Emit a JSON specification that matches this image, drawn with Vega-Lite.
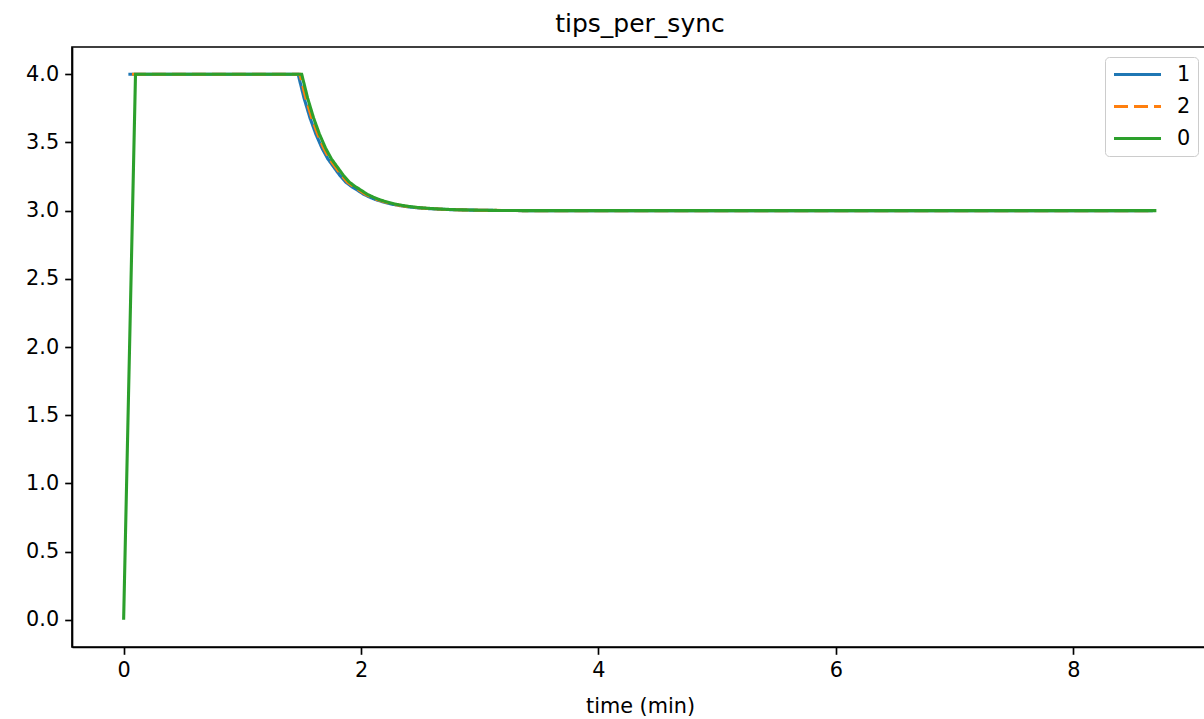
{
  "$schema": "https://vega.github.io/schema/vega-lite/v6.json",
  "autosize": "none",
  "width": 1136,
  "height": 600,
  "padding": {"left": 72, "top": 47, "right": 0, "bottom": 72},
  "background": "white",
  "title": {"text": "tips_per_sync", "font": "DejaVu Sans", "fontSize": 25, "fontWeight": "normal", "color": "black", "anchor": "middle", "baseline": "alphabetic", "offset": -10},
  "config": {
    "view": {"stroke": "black", "strokeWidth": 1.67},
    "axis": {"grid": false, "domainColor": "black", "domainWidth": 1.67, "tickColor": "black", "tickWidth": 1.67, "tickSize": 7.3, "labelPadding": 6, "labelFont": "DejaVu Sans", "labelFontSize": 20.8, "labelColor": "black", "titleFont": "DejaVu Sans", "titleFontSize": 20.8, "titleFontWeight": "normal", "titleColor": "black"},
    "legend": {"labelFont": "DejaVu Sans", "labelFontSize": 20.8, "labelColor": "black"}
  },
  "data": {"values": [
    {"s": "0", "t": 0, "v": 0},
    {"s": "0", "t": 0.1, "v": 4}, {"s": "0", "t": 0.5, "v": 4}, {"s": "0", "t": 1.0, "v": 4}, {"s": "0", "t": 1.5, "v": 4},
    {"s": "0", "t": 1.55, "v": 3.825}, {"s": "0", "t": 1.6, "v": 3.68}, {"s": "0", "t": 1.65, "v": 3.56}, {"s": "0", "t": 1.7, "v": 3.46},
    {"s": "0", "t": 1.75, "v": 3.38}, {"s": "0", "t": 1.8, "v": 3.32}, {"s": "0", "t": 1.85, "v": 3.26}, {"s": "0", "t": 1.9, "v": 3.21},
    {"s": "0", "t": 1.95, "v": 3.177}, {"s": "0", "t": 2.0, "v": 3.15}, {"s": "0", "t": 2.05, "v": 3.121}, {"s": "0", "t": 2.1, "v": 3.10},
    {"s": "0", "t": 2.15, "v": 3.082}, {"s": "0", "t": 2.2, "v": 3.068}, {"s": "0", "t": 2.25, "v": 3.056}, {"s": "0", "t": 2.3, "v": 3.046},
    {"s": "0", "t": 2.35, "v": 3.038}, {"s": "0", "t": 2.4, "v": 3.031}, {"s": "0", "t": 2.45, "v": 3.026}, {"s": "0", "t": 2.5, "v": 3.021},
    {"s": "0", "t": 2.6, "v": 3.015}, {"s": "0", "t": 2.7, "v": 3.010}, {"s": "0", "t": 2.8, "v": 3.007}, {"s": "0", "t": 2.9, "v": 3.005},
    {"s": "0", "t": 3.0, "v": 3.003}, {"s": "0", "t": 3.1, "v": 3.002}, {"s": "0", "t": 3.2, "v": 3.001}, {"s": "0", "t": 3.3, "v": 3.001},
    {"s": "0", "t": 3.4, "v": 3.0}, {"s": "0", "t": 4.5, "v": 3.0}, {"s": "0", "t": 6.0, "v": 3.0}, {"s": "0", "t": 7.5, "v": 3.0}, {"s": "0", "t": 8.7, "v": 3.0},

    {"s": "1", "t": 0.04, "v": 4}, {"s": "1", "t": 0.57, "v": 4}, {"s": "1", "t": 1.07, "v": 4}, {"s": "1", "t": 1.47, "v": 4},
    {"s": "1", "t": 1.52, "v": 3.825}, {"s": "1", "t": 1.57, "v": 3.68}, {"s": "1", "t": 1.62, "v": 3.56}, {"s": "1", "t": 1.67, "v": 3.46},
    {"s": "1", "t": 1.72, "v": 3.38}, {"s": "1", "t": 1.77, "v": 3.32}, {"s": "1", "t": 1.82, "v": 3.26}, {"s": "1", "t": 1.87, "v": 3.21},
    {"s": "1", "t": 1.92, "v": 3.177}, {"s": "1", "t": 1.97, "v": 3.15}, {"s": "1", "t": 2.02, "v": 3.121}, {"s": "1", "t": 2.07, "v": 3.10},
    {"s": "1", "t": 2.12, "v": 3.082}, {"s": "1", "t": 2.17, "v": 3.068}, {"s": "1", "t": 2.22, "v": 3.056}, {"s": "1", "t": 2.27, "v": 3.046},
    {"s": "1", "t": 2.32, "v": 3.038}, {"s": "1", "t": 2.37, "v": 3.031}, {"s": "1", "t": 2.42, "v": 3.026}, {"s": "1", "t": 2.47, "v": 3.021},
    {"s": "1", "t": 2.57, "v": 3.015}, {"s": "1", "t": 2.67, "v": 3.010}, {"s": "1", "t": 2.77, "v": 3.007}, {"s": "1", "t": 2.87, "v": 3.005},
    {"s": "1", "t": 2.97, "v": 3.003}, {"s": "1", "t": 3.07, "v": 3.002}, {"s": "1", "t": 3.17, "v": 3.001}, {"s": "1", "t": 3.27, "v": 3.001},
    {"s": "1", "t": 3.37, "v": 3.0}, {"s": "1", "t": 5.07, "v": 3.0}, {"s": "1", "t": 6.87, "v": 3.0}, {"s": "1", "t": 8.67, "v": 3.0},

    {"s": "2", "t": 0.07, "v": 4}, {"s": "2", "t": 0.585, "v": 4}, {"s": "2", "t": 1.085, "v": 4}, {"s": "2", "t": 1.485, "v": 4},
    {"s": "2", "t": 1.535, "v": 3.825}, {"s": "2", "t": 1.585, "v": 3.68}, {"s": "2", "t": 1.635, "v": 3.56}, {"s": "2", "t": 1.685, "v": 3.46},
    {"s": "2", "t": 1.735, "v": 3.38}, {"s": "2", "t": 1.785, "v": 3.32}, {"s": "2", "t": 1.835, "v": 3.26}, {"s": "2", "t": 1.885, "v": 3.21},
    {"s": "2", "t": 1.935, "v": 3.177}, {"s": "2", "t": 1.985, "v": 3.15}, {"s": "2", "t": 2.035, "v": 3.121}, {"s": "2", "t": 2.085, "v": 3.10},
    {"s": "2", "t": 2.135, "v": 3.082}, {"s": "2", "t": 2.185, "v": 3.068}, {"s": "2", "t": 2.235, "v": 3.056}, {"s": "2", "t": 2.285, "v": 3.046},
    {"s": "2", "t": 2.335, "v": 3.038}, {"s": "2", "t": 2.385, "v": 3.031}, {"s": "2", "t": 2.435, "v": 3.026}, {"s": "2", "t": 2.485, "v": 3.021},
    {"s": "2", "t": 2.585, "v": 3.015}, {"s": "2", "t": 2.685, "v": 3.010}, {"s": "2", "t": 2.785, "v": 3.007}, {"s": "2", "t": 2.885, "v": 3.005},
    {"s": "2", "t": 2.985, "v": 3.003}, {"s": "2", "t": 3.085, "v": 3.002}, {"s": "2", "t": 3.185, "v": 3.001}, {"s": "2", "t": 3.285, "v": 3.001},
    {"s": "2", "t": 3.385, "v": 3.0}, {"s": "2", "t": 5.085, "v": 3.0}, {"s": "2", "t": 6.885, "v": 3.0}, {"s": "2", "t": 8.685, "v": 3.0}
  ]},
  "encoding": {
    "x": {"field": "t", "type": "quantitative", "scale": {"domain": [-0.435, 9.135], "nice": false, "zero": false},
          "axis": {"values": [0, 2, 4, 6, 8], "format": "d", "title": "time (min)", "titlePadding": 16}},
    "y": {"field": "v", "type": "quantitative", "scale": {"domain": [-0.2, 4.2], "nice": false, "zero": false},
          "axis": {"values": [0, 0.5, 1, 1.5, 2, 2.5, 3, 3.5, 4], "format": ".1f", "title": null}},
    "color": {"field": "s", "type": "nominal", "sort": ["1", "2", "0"],
              "scale": {"domain": ["1", "2", "0"], "range": ["#1f77b4", "#ff7f0e", "#2ca02c"]},
              "legend": {"title": null, "orient": "top-right", "offset": 10, "symbolType": "stroke", "symbolSize": 2209, "symbolStrokeWidth": 3.1,
                         "fillColor": "white", "strokeColor": "#cccccc", "cornerRadius": 4, "padding": 7, "rowPadding": 10, "clipHeight": 21, "labelOffset": 14}},
    "strokeDash": {"field": "s", "type": "nominal", "sort": ["1", "2", "0"],
                   "scale": {"domain": ["1", "2", "0"], "range": [[1, 0], [14, 6], [1, 0]]},
                   "legend": {"title": null, "orient": "top-right", "offset": 10, "symbolType": "stroke", "symbolSize": 2209, "symbolStrokeWidth": 3.1,
                              "fillColor": "white", "strokeColor": "#cccccc", "cornerRadius": 4, "padding": 7, "rowPadding": 10, "clipHeight": 21, "labelOffset": 14}}
  },
  "layer": [
    {"transform": [{"filter": "datum.s == '1'"}], "mark": {"type": "line", "strokeWidth": 3.1, "strokeCap": "butt"}},
    {"transform": [{"filter": "datum.s == '2'"}], "mark": {"type": "line", "strokeWidth": 3.1, "strokeCap": "butt"}},
    {"transform": [{"filter": "datum.s == '0'"}], "mark": {"type": "line", "strokeWidth": 3.1, "strokeCap": "butt"}}
  ]
}
